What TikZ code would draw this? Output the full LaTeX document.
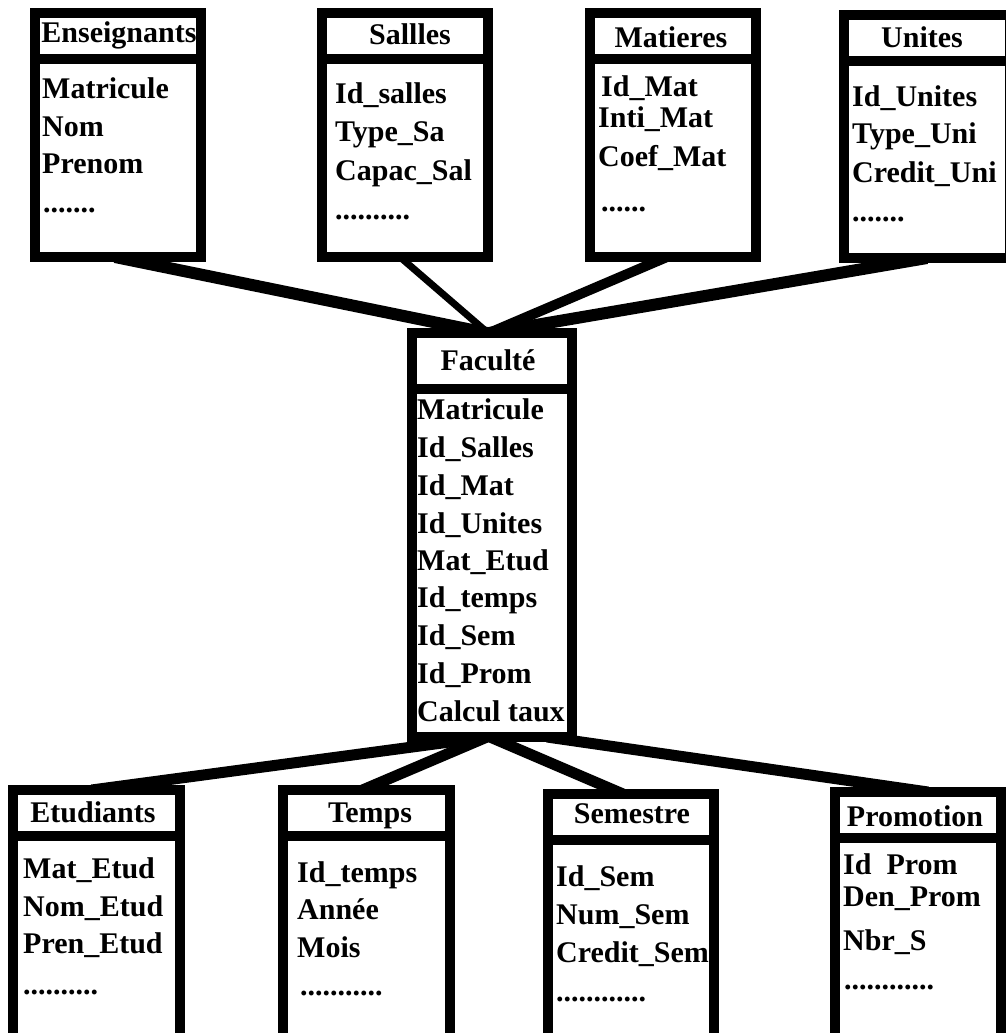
\documentclass[tikz,border=0pt]{standalone}
\usepackage{fontspec}
\setmainfont{Liberation Serif}
\usetikzlibrary{backgrounds}
\begin{document}
\begin{tikzpicture}[x=1pt,y=-1pt,
  font=\fontsize{30pt}{36pt}\selectfont\bfseries,
  tablebox/.style={draw=black, fill=white, line width=10pt, inner sep=0pt, outer sep=0pt},
  sepline/.style={line width=10pt},
  link/.style={line width=11pt},
  ttl/.style={anchor=base, inner sep=0pt},
  fld/.style={anchor=base west, inner sep=0pt}
]
\useasboundingbox (0,0) rectangle (1006,1033);

% ---- tables of the upper row ----
\node[tablebox, minimum width=166pt, minimum height=244pt] (ens) at (118,135) {};
\node[tablebox, minimum width=166pt, minimum height=244pt] (sal) at (405,135) {};
\node[tablebox, minimum width=166pt, minimum height=244pt] (mat) at (673,135) {};
\node[tablebox, minimum width=166pt, minimum height=243pt] (uni) at (927,136.5) {};

% ---- central fact table ----
\node[tablebox, minimum width=160pt, minimum height=404pt] (fac) at (492,535) {};

% ---- tables of the lower row ----
\node[tablebox, minimum width=167pt, minimum height=250pt] (etu) at (96.5,915) {};
\node[tablebox, minimum width=167pt, minimum height=250pt] (tem) at (366.5,915) {};
\node[tablebox, minimum width=166pt, minimum height=246pt] (sem) at (631,917) {};
\node[tablebox, minimum width=166pt, minimum height=248pt] (pro) at (918,916) {};

% ---- title separators ----
\draw[sepline] (ens.west |- 0,59) -- (ens.east |- 0,59);
\draw[sepline] (sal.west |- 0,59) -- (sal.east |- 0,59);
\draw[sepline] (mat.west |- 0,59) -- (mat.east |- 0,59);
\draw[sepline] (uni.west |- 0,61) -- (uni.east |- 0,61);
\draw[sepline] (fac.west |- 0,389) -- (fac.east |- 0,389);
\draw[sepline] (etu.west |- 0,835.5) -- (etu.east |- 0,835.5);
\draw[sepline] (tem.west |- 0,835.5) -- (tem.east |- 0,835.5);
\draw[sepline] (sem.west |- 0,839.5) -- (sem.east |- 0,839.5);
\draw[sepline] (pro.west |- 0,837.5) -- (pro.east |- 0,837.5);

% ---- Enseignants ----
\node[ttl] (ens-t) at (119,43) {Enseignants};
\node[fld] (ens-1) at (42,98) {Matricule};
\node[fld] (ens-2) at (42,136) {Nom};
\node[fld] (ens-3) at (42,173) {Prenom};
\node[fld] (ens-4) at (43,212) {.......};

% ---- Sallles ----
\node[ttl] (sal-t) at (410,45) {Sallles};
\node[fld] (sal-1) at (335,103) {Id\_salles};
\node[fld] (sal-2) at (335,141) {Type\_Sa};
\node[fld] (sal-3) at (335,180) {Capac\_Sal};
\node[fld] (sal-4) at (335,219) {..........};

% ---- Matieres ----
\node[ttl] (mat-t) at (671,48) {Matieres};
\node[fld] (mat-1) at (601,96) {Id\_Mat};
\node[fld] (mat-2) at (598,127) {Inti\_Mat};
\node[fld] (mat-3) at (598,166) {Coef\_Mat};
\node[fld] (mat-4) at (601,211) {......};

% ---- Unites ----
\node[ttl] (uni-t) at (922,48) {Unites};
\node[fld] (uni-1) at (852,106) {Id\_Unites};
\node[fld] (uni-2) at (852,143) {Type\_Uni};
\node[fld] (uni-3) at (852,182) {Credit\_Uni};
\node[fld] (uni-4) at (852,221) {.......};

% ---- Faculté ----
\node[ttl] (fac-t) at (488,370) {Faculté};
\node[fld] (fac-1) at (417,419) {Matricule};
\node[fld] (fac-2) at (417,457) {Id\_Salles};
\node[fld] (fac-3) at (417,495) {Id\_Mat};
\node[fld] (fac-4) at (417,533) {Id\_Unites};
\node[fld] (fac-5) at (417,570) {Mat\_Etud};
\node[fld] (fac-6) at (417,607) {Id\_temps};
\node[fld] (fac-7) at (417,645) {Id\_Sem};
\node[fld] (fac-8) at (417,683) {Id\_Prom};
\node[fld] (fac-9) at (417,721) {Calcul taux};

% ---- Etudiants ----
\node[ttl] (etu-t) at (93,822) {Etudiants};
\node[fld] (etu-1) at (23,878) {Mat\_Etud};
\node[fld] (etu-2) at (23,916) {Nom\_Etud};
\node[fld] (etu-3) at (23,953) {Pren\_Etud};
\node[fld] (etu-4) at (23,994) {..........};

% ---- Temps ----
\node[ttl] (tem-t) at (370,822) {Temps};
\node[fld] (tem-1) at (297,882) {Id\_temps};
\node[fld] (tem-2) at (297,919) {Année};
\node[fld] (tem-3) at (297,957) {Mois};
\node[fld] (tem-4) at (300,995) {...........};

% ---- Semestre ----
\node[ttl] (sem-t) at (632,823) {Semestre};
\node[fld] (sem-1) at (556,886) {Id\_Sem};
\node[fld] (sem-2) at (556,924) {Num\_Sem};
\node[fld] (sem-3) at (556,962) {Credit\_Sem};
\node[fld] (sem-4) at (556,1001) {............};

% ---- Promotion ----
\node[ttl] (pro-t) at (915,826) {Promotion};
\node[fld] (pro-1) at (843,874) {Id\enspace Prom};
\node[fld] (pro-2) at (843,906) {Den\_Prom};
\node[fld] (pro-3) at (843,950) {Nbr\_S};
\node[fld] (pro-4) at (844,989) {............};

% ---- links to the fact table ----
\begin{scope}[on background layer]
  \draw[link, line width=12pt] ([xshift=-3pt]ens.south) -- ([xshift=-5pt]fac.north);
  \draw[link, line width=7pt]  ([xshift=-5pt]sal.south) -- ([xshift=-4pt]fac.north);
  \draw[link, line width=10pt] ([xshift=-6pt]mat.south) -- ([xshift=-3pt]fac.north);
  \draw[link, line width=12pt] (uni.south) -- ([xshift=-3pt]fac.north);
  \draw[link] ([xshift=-5pt]fac.south) -- ([xshift=-5pt]etu.north);
  \draw[link] ([xshift=-5pt]fac.south) -- ([xshift=-4pt]tem.north);
  \draw[link] ([xshift=-2pt]fac.south) -- ([xshift=-8pt]sem.north);
  \draw[link] ([xshift=55pt]fac.south) -- ([xshift=10pt]pro.north);
\end{scope}
\end{tikzpicture}
\end{document}
